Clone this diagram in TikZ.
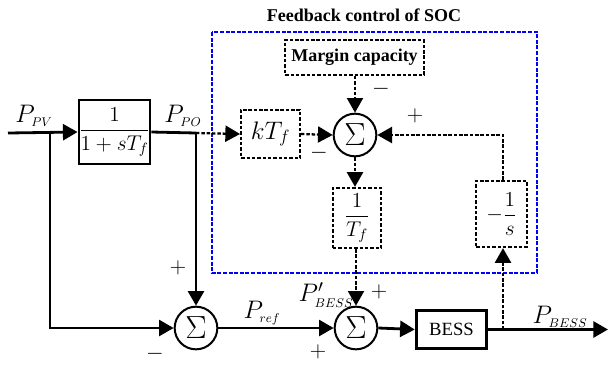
\RequirePackage{fix-cm}
\documentclass[tikz,border=0pt]{standalone}
\usepackage{amsmath}
\usepackage{fontspec}
\setmainfont{Liberation Serif}
\usetikzlibrary{arrows.meta}
\newcommand{\lsub}[1]{_{\scriptscriptstyle #1}}
\begin{document}
\begin{tikzpicture}[x=0.75pt,y=-0.75pt,
  sline/.style={line width=2.1pt},
  dline/.style={line width=1.7pt, dash pattern=on 2.6pt off 1.4pt},
  arr/.style={-{Triangle[length=11pt,width=12pt]}},
  sbox/.style={draw, sline, inner sep=0pt, align=center},
  dbox/.style={draw, dline, inner sep=0pt, align=center},
  sumnode/.style={draw, circle, line width=1.5pt, minimum size=32pt, inner sep=0pt, font=\fontsize{24}{26}\selectfont},
  lbl/.style={font=\fontsize{19}{21}\selectfont, inner sep=0pt},
  sgn/.style={font=\fontsize{17}{19}\selectfont, inner sep=0pt}
]
\useasboundingbox (0,0) rectangle (608,365);

% blue feedback region
\draw[blue, line width=1.8pt, dash pattern=on 3pt off 1.2pt] (212,32) rectangle (537,273);
\node[font=\bfseries\fontsize{13.5}{15}\selectfont, inner sep=0pt] (title) at (364,15) {Feedback control of SOC};

% blocks
\node[sbox, minimum width=48.75pt, minimum height=48pt, font=\fontsize{16}{18}\selectfont] (tf) at (114.5,132) {$\dfrac{1}{1+sT_f}$};
\node[dbox, minimum width=104pt, minimum height=26pt, font=\bfseries\fontsize{13.5}{15}\selectfont] (mc) at (354.5,57.5) {Margin capacity};
\node[dbox, minimum width=44pt, minimum height=36pt, font=\fontsize{19}{21}\selectfont] (kt) at (270.5,134) {$kT_f$};
\node[sumnode] (s1) at (355,135) {$\Sigma$};
\node[dbox, minimum width=36pt, minimum height=45pt, font=\fontsize{16}{18}\selectfont] (it) at (357,218) {$\dfrac{1}{T_f}$};
\node[dbox, minimum width=38pt, minimum height=49.5pt, font=\fontsize{16}{18}\selectfont] (is) at (501.5,214) {$-\dfrac{1}{s}$};
\node[sumnode] (s2) at (196,328) {$\Sigma$};
\node[sumnode] (s3) at (356,328) {$\Sigma$};
\node[sbox, minimum width=53pt, minimum height=29pt, font=\fontsize{14}{16}\selectfont] (bess) at (451.5,329.5) {BESS};

% coordinates
\coordinate (in) at (8,133);
\coordinate (b1) at (50,133);
\coordinate (c1) at (196,133);
\coordinate (b2) at (503,329.5);
\coordinate (out) at (608,329.5);

% solid connectors
\draw[sline, arr] (in) -- (tf.west);
\draw[sline, arr] (b1) |- (s2.west);
\draw[sline] (tf.east) -- (c1);
\draw[sline, arr] (c1) -- (s2.north);
\draw[sline, arr] (s2.east) -- (s3.west);
\draw[sline, arr] (s3.east) -- (bess.west);
\draw[sline, arr] (bess.east) -- (out);

% dashed connectors
\draw[dline, arr] (c1) -- (kt.west);
\draw[dline, arr] (kt.east) -- (s1.west);
\draw[dline, arr] (mc.south -| s1) -- (s1.north);
\draw[dline, arr] (s1.south) -- (it.north -| s1);
\draw[dline, arr] (it.south -| s3) -- (s3.north);
\draw[dline, arr] (b2) -- (b2 |- is.south);
\draw[dline, arr] (b2 |- is.north) |- (s1.east);

% labels
\node[lbl] (lpv) at (34,116) {$P\lsub{PV}$};
\node[lbl] (lpo) at (183,116) {$P\lsub{PO}$};
\node[lbl] (lref) at (262,313) {$P\lsub{ref}$};
\node[lbl] (lbp) at (326,295) {$P'\lsub{BESS}$};
\node[lbl] (lb) at (560,317) {$P\lsub{BESS}$};

% signs
\node[sgn] (m1) at (381,89) {$-$};
\node[sgn] (p1) at (415,116) {$+$};
\node[sgn] (m2) at (319,153) {$-$};
\node[sgn] (p2) at (178,268) {$+$};
\node[sgn] (m3) at (155,354) {$-$};
\node[sgn] (p3) at (318,352) {$+$};
\node[sgn] (p4) at (379,292) {$+$};
\end{tikzpicture}
\end{document}
